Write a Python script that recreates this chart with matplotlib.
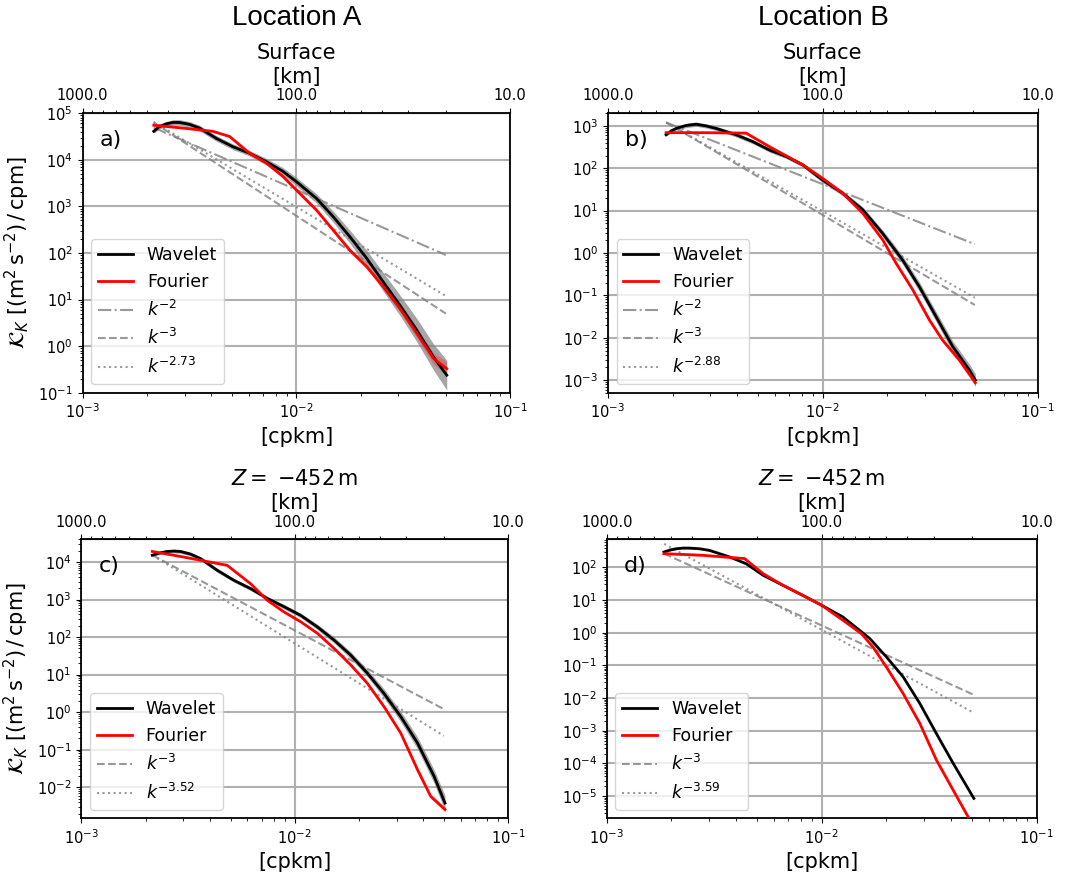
import numpy as np
import matplotlib
matplotlib.use("Agg")
import matplotlib.pyplot as plt
from matplotlib.ticker import FuncFormatter, LogLocator, NullFormatter, FixedLocator

# values: log10 of wavenumber [cpkm] and log10 of KE spectrum
# --- Location A, surface ---
logk_a_wav = [-2.667, -2.641, -2.609, -2.578, -2.547, -2.5, -2.453, -2.375, -2.297, -2.219,
              -2.141, -2.0625, -2.0, -1.906, -1.828, -1.75, -1.672, -1.594, -1.516,
              -1.4375, -1.359, -1.297]
logE_a_wav = [4.61, 4.71, 4.77, 4.80, 4.80, 4.76, 4.68, 4.46, 4.28, 4.14,
              3.96, 3.75, 3.53, 3.17, 2.78, 2.35, 1.89, 1.38, 0.88,
              0.35, -0.23, -0.62]
spread_a_wav = [0.04, 0.05, 0.05, 0.06, 0.06, 0.06, 0.06, 0.06, 0.06, 0.06,
                0.07, 0.08, 0.09, 0.10, 0.12, 0.14, 0.17, 0.20, 0.22,
                0.25, 0.28, 0.32]
logk_a_fou = [-2.667, -2.531, -2.391, -2.3125, -2.219, -2.141, -2.0625, -2.0, -1.906,
              -1.828, -1.75, -1.672, -1.594, -1.516, -1.4375, -1.359, -1.297]
logE_a_fou = [4.74, 4.68, 4.61, 4.50, 4.14, 3.93, 3.64, 3.35, 2.92,
              2.49, 2.06, 1.71, 1.28, 0.81, 0.28, -0.26, -0.48]
spread_a_fou = [0.02, 0.02, 0.02, 0.03, 0.03, 0.03, 0.03, 0.03, 0.04,
                0.04, 0.05, 0.05, 0.06, 0.07, 0.09, 0.12, 0.15]

# --- Location B, surface ---
logk_b_wav = [-2.729, -2.706, -2.682, -2.636, -2.589, -2.543, -2.496, -2.403, -2.326, -2.248,
              -2.171, -2.093, -2.0, -1.907, -1.814, -1.721, -1.628, -1.55, -1.473,
              -1.395, -1.318, -1.29]
logE_b_wav = [2.79, 2.88, 2.94, 3.01, 3.04, 3.00, 2.94, 2.79, 2.63, 2.43,
              2.28, 2.08, 1.72, 1.41, 1.02, 0.46, -0.17, -0.80, -1.50,
              -2.21, -2.76, -3.0]
spread_b_wav = [0.03, 0.04, 0.04, 0.05, 0.05, 0.05, 0.05, 0.05, 0.05, 0.05,
                0.05, 0.05, 0.06, 0.06, 0.07, 0.08, 0.10, 0.11, 0.12,
                0.13, 0.14, 0.15]
logk_b_fou = [-2.729, -2.558, -2.357, -2.248, -2.093, -2.0, -1.907, -1.814, -1.721,
              -1.659, -1.581, -1.504, -1.442, -1.364, -1.29]
logE_b_fou = [2.84, 2.84, 2.83, 2.51, 2.08, 1.76, 1.41, 0.94, 0.31,
              -0.24, -0.87, -1.58, -2.06, -2.53, -3.06]
spread_b_fou = [0.02, 0.02, 0.03, 0.03, 0.03, 0.03, 0.03, 0.03, 0.04,
                0.04, 0.04, 0.05, 0.05, 0.06, 0.07]

# --- Location A, Z = -452 m ---
logk_c_wav = [-2.668, -2.633, -2.598, -2.567, -2.536, -2.489, -2.442, -2.364, -2.285, -2.207,
              -2.129, -2.051, -1.973, -1.894, -1.816, -1.738, -1.660, -1.582, -1.503,
              -1.425, -1.347, -1.296]
logE_c_wav = [4.18, 4.24, 4.28, 4.29, 4.28, 4.21, 4.09, 3.78, 3.51, 3.29,
              3.03, 2.81, 2.58, 2.27, 1.92, 1.52, 1.04, 0.50, -0.12,
              -0.82, -1.71, -2.42]
spread_c_wav = [0.03, 0.04, 0.04, 0.05, 0.05, 0.05, 0.05, 0.05, 0.05, 0.05,
                0.05, 0.06, 0.06, 0.07, 0.08, 0.09, 0.10, 0.12, 0.14,
                0.16, 0.18, 0.20]
logk_c_fou = [-2.668, -2.520, -2.317, -2.207, -2.129, -2.051, -1.973, -1.894, -1.816,
              -1.738, -1.660, -1.582, -1.503, -1.425, -1.363, -1.296]
logE_c_fou = [4.28, 4.13, 3.91, 3.42, 2.98, 2.67, 2.41, 2.10, 1.70,
              1.26, 0.77, 0.15, -0.56, -1.53, -2.24, -2.59]
spread_c_fou = [0.02, 0.02, 0.02, 0.02, 0.02, 0.02, 0.02, 0.02, 0.03,
                0.03, 0.03, 0.04, 0.04, 0.05, 0.06, 0.07]

# --- Location B, Z = -452 m ---
logk_d_wav = [-2.734, -2.706, -2.677, -2.646, -2.615, -2.568, -2.522, -2.429, -2.351, -2.273,
              -2.180, -2.087, -2.0, -1.901, -1.823, -1.776, -1.699, -1.621, -1.543,
              -1.466, -1.388, -1.292]
logE_d_wav = [2.47, 2.53, 2.57, 2.59, 2.59, 2.57, 2.52, 2.32, 2.11, 1.76,
              1.45, 1.14, 0.84, 0.48, 0.07, -0.18, -0.74, -1.35, -2.17,
              -3.09, -4.0, -5.07]
spread_d_wav = [0.03, 0.03, 0.03, 0.03, 0.03, 0.03, 0.03, 0.02, 0.02, 0.02,
                0.02, 0.02, 0.02, 0.02, 0.02, 0.02, 0.02, 0.02, 0.02,
                0.02, 0.02, 0.02]
logk_d_fou = [-2.734, -2.553, -2.359, -2.273, -2.180, -2.087, -2.0, -1.901, -1.815,
              -1.761, -1.699, -1.621, -1.543, -1.466, -1.388, -1.314]
logE_d_fou = [2.42, 2.37, 2.27, 1.81, 1.45, 1.14, 0.84, 0.38, -0.03,
              -0.44, -1.05, -1.86, -2.78, -3.90, -4.82, -5.69]
spread_d_fou = [0.03, 0.03, 0.04, 0.02, 0.02, 0.02, 0.02, 0.02, 0.02,
                0.02, 0.02, 0.02, 0.02, 0.02, 0.02, 0.02]

# reference power laws: exponents and log10 value at the first wavenumber
slopes_a, start_a = [-2, -3, -2.73], [4.69, 4.80, 4.81]
slopes_b, start_b = [-2, -3, -2.88], [3.08, 3.08, 3.08]
slopes_c, start_c = [-3, -3.52], [4.18, 4.18]
slopes_d, start_d = [-3, -3.59], [2.42, 2.72]
krange_a = [2.15e-3, 0.050]
krange_b = [1.87e-3, 0.051]
krange_c = [2.15e-3, 0.050]
krange_d = [1.85e-3, 0.051]

ylims = {"a": (1e-1, 1e5), "b": (5e-4, 2e3), "c": (1.5e-3, 4e4), "d": (2.1e-6, 720)}
km_ticks = [1000.0, 100.0, 10.0]


def law_style(s):
    if s == -2:
        return "-."
    if s == -3:
        return "--"
    return ":"


def law_label(s):
    if float(s).is_integer():
        return r"$k^{%d}$" % s
    return r"$k^{%.2f}$" % s


def plot_panel(ax, tag, kw, Ew, sw, kf, Ef, sf, slopes, starts, krange, title, ylabel):
    kw, Ew, sw = 10 ** np.array(kw), np.array(Ew), np.array(sw)
    kf, Ef, sf = 10 ** np.array(kf), np.array(Ef), np.array(sf)
    ax.fill_between(kw, 10 ** (Ew - sw), 10 ** (Ew + sw), color="grey", alpha=0.7, lw=0, zorder=2)
    ax.fill_between(kf, 10 ** (Ef - sf), 10 ** (Ef + sf), color="red", alpha=0.25, lw=0, zorder=2)
    ax.plot(kw, 10 ** Ew, color="black", lw=2, label="Wavelet", zorder=4)
    ax.plot(kf, 10 ** Ef, color="red", lw=2, label="Fourier", zorder=4)
    kk = np.array(krange)
    for s, s0 in zip(slopes, starts):
        vals = 10 ** s0 * (kk / kk[0]) ** s
        ax.plot(kk, vals, color="grey", alpha=0.8, lw=1.5, ls=law_style(s),
                label=law_label(s), zorder=3)

    ax.set_xscale("log")
    ax.set_yscale("log")
    ax.set_xlim(1e-3, 1e-1)
    ax.set_ylim(*ylims[tag])
    ax.yaxis.set_major_locator(LogLocator(base=10, numticks=30))
    ax.yaxis.set_minor_locator(LogLocator(base=10, subs=np.arange(2, 10), numticks=30))
    ax.yaxis.set_minor_formatter(NullFormatter())
    ax.grid(True, which="major", color="#b0b0b0", lw=1.5, zorder=0)
    ax.set_axisbelow(True)
    ax.tick_params(labelsize=10.5)
    for sp in ax.spines.values():
        sp.set_linewidth(1.3)
    ax.set_xlabel("[cpkm]", fontsize=15)
    if ylabel:
        ax.set_ylabel(r"$\mathcal{K}_K\ [(\mathrm{m}^2\,\mathrm{s}^{-2})\,/\,\mathrm{cpm}]$", fontsize=15)

    sec = ax.secondary_xaxis("top", functions=(lambda x: 1 / x, lambda x: 1 / x))
    sec.xaxis.set_major_locator(FixedLocator(km_ticks))
    sec.xaxis.set_major_formatter(FuncFormatter(lambda v, p: f"{v:.1f}"))
    sec.xaxis.set_minor_formatter(NullFormatter())
    sec.tick_params(labelsize=10.5)
    sec.set_xlabel("[km]", fontsize=15)
    ax.set_title(title, fontsize=15)

    ax.text(0.04, 0.905, tag + ")", transform=ax.transAxes, fontsize=16, va="center")
    ax.legend(loc="lower left", fontsize=12.5)


fig = plt.figure(figsize=(10.72, 8.77), dpi=100)
ax_a = fig.add_axes([0.077, 0.552, 0.399, 0.319])
ax_b = fig.add_axes([0.567, 0.552, 0.401, 0.319])
ax_c = fig.add_axes([0.076, 0.067, 0.398, 0.318])
ax_d = fig.add_axes([0.566, 0.067, 0.401, 0.318])

zt = r"$Z = \;{-452}\,\mathrm{m}$"
plot_panel(ax_a, "a", logk_a_wav, logE_a_wav, spread_a_wav, logk_a_fou, logE_a_fou, spread_a_fou,
           slopes_a, start_a, krange_a, "Surface", True)
plot_panel(ax_b, "b", logk_b_wav, logE_b_wav, spread_b_wav, logk_b_fou, logE_b_fou, spread_b_fou,
           slopes_b, start_b, krange_b, "Surface", False)
plot_panel(ax_c, "c", logk_c_wav, logE_c_wav, spread_c_wav, logk_c_fou, logE_c_fou, spread_c_fou,
           slopes_c, start_c, krange_c, zt, True)
plot_panel(ax_d, "d", logk_d_wav, logE_d_wav, spread_d_wav, logk_d_fou, logE_d_fou, spread_d_fou,
           slopes_d, start_d, krange_d, zt, False)

fig.text(0.2766, 1 - 18 / 877, "Location A", ha="center", va="center", fontsize=20,
         family="Liberation Sans")
fig.text(0.7677, 1 - 18 / 877, "Location B", ha="center", va="center", fontsize=20,
         family="Liberation Sans")

fig.savefig("out.png", dpi=100)
